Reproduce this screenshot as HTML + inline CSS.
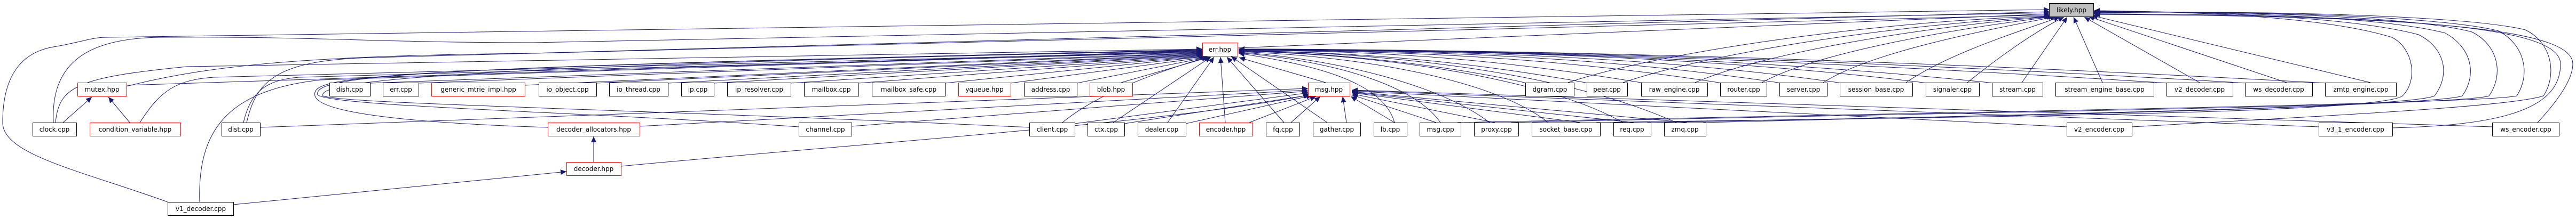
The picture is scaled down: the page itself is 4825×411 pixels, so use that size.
<!DOCTYPE html>
<html><head><meta charset="utf-8"><style>
html,body{margin:0;padding:0;background:#fff;}
svg{display:block;}
text{font-family:"DejaVu Sans","Liberation Sans",sans-serif;font-size:12px;fill:#000;text-anchor:middle;}
.n{fill:#fff;stroke:#000;stroke-width:1;}
.r{fill:#fff;stroke:#ff0000;stroke-width:1;}
.e{fill:none;stroke:#191970;stroke-width:1;marker-end:url(#a);}
.f{fill:none;stroke:#191970;stroke-width:1;}
</style></head><body>
<svg width="4825" height="411" viewBox="0 0 4825 411" xmlns="http://www.w3.org/2000/svg">
<defs><marker id="a" markerUnits="userSpaceOnUse" markerWidth="12" markerHeight="10" refX="11" refY="5" orient="auto"><path d="M0,0 L11,5 L0,10 z" fill="#191970"/></marker></defs>
<g>
<!-- long edges to likely.hpp -->
<path class="e" d="M314,379 C150,320 5,290 5,230 C5,120 60,95 100,88 C150,80 170,70 200,70 L3839,18"/>
<path class="e" d="M100,230 C95,120 160,72 300,70 C600,68 700,80 1000,80 L3839,24"/>
<path class="e" d="M2319,90 L3839,26"/>
<path class="e" d="M462,230 C480,150 520,112 700,108 L3839,22"/>
<path class="e" d="M237,162 C400,120 600,104 1000,100 L3839,28"/>
<!-- edges to err.hpp -->
<path class="e" d="M104,230 C110,160 150,145 350,125 L2252,92"/>
<path class="e" d="M237,160 L2252,95"/>
<path class="e" d="M262,230 C300,170 330,150 400,145 L2252,97"/>
<path class="e" d="M456,230 C470,170 500,150 560,145 L2252,98"/>
<path class="e" d="M374,379 C370,250 420,170 600,150 L2252,96"/>
<path class="e" d="M1026,239 C800,232 600,215 590,180 C580,140 700,130 2252,93"/>
<path class="e" d="M1496,238 C1100,210 620,200 595,178 C585,140 800,125 2252,94"/>
<path class="e" d="M1928,239 C1200,205 640,195 605,180 C590,150 900,122 2252,95"/>
<path class="e" d="M693,156 L2252,99"/>
<path class="e" d="M784,156 L2252,100"/>
<path class="e" d="M983,160 L2252,101"/>
<path class="e" d="M1117,156 L2254,102"/>
<path class="e" d="M1251,156 L2255,103"/>
<path class="e" d="M1337,156 L2256,104"/>
<path class="e" d="M1481,156 L2257,105"/>
<path class="e" d="M1608,156 L2258,106"/>
<path class="e" d="M1770,156 L2260,106"/>
<path class="e" d="M1893,156 L2262,107"/>
<path class="e" d="M2017,156 L2264,107"/>
<path class="e" d="M2100,155 L2266,107"/>
<path class="e" d="M1990,230 C2050,180 2150,140 2262,107"/>
<path class="e" d="M2085,230 L2268,107"/>
<path class="e" d="M2187,230 L2274,107"/>
<path class="e" d="M2295,230 L2286,107"/>
<path class="e" d="M2405,230 L2298,107"/>
<path class="e" d="M2486,230 L2306,106"/>
<path class="e" d="M2483,155 L2321,108"/>
<path class="e" d="M2612,230 C2590,150 2450,120 2320,100"/>
<path class="e" d="M2698,230 C2650,160 2500,115 2320,99"/>
<path class="e" d="M2790,230 C2700,160 2500,110 2320,98"/>
<path class="e" d="M2900,230 C2800,150 2550,105 2320,97"/>
<path class="e" d="M3040,230 C2900,150 2600,102 2320,96"/>
<path class="e" d="M3140,230 C2950,145 2650,100 2320,95"/>
<path class="e" d="M2860,156 C2700,120 2500,100 2320,95"/>
<path class="e" d="M2975,156 C2750,115 2550,98 2320,95"/>
<path class="e" d="M3080,156 C2800,110 2600,96 2320,94"/>
<path class="e" d="M3226,156 C2900,105 2600,95 2320,94"/>
<path class="e" d="M3337,156 C3000,105 2650,94 2320,94"/>
<path class="e" d="M3450,156 C3100,105 2700,94 2320,93"/>
<path class="e" d="M3611,156 C3200,105 2750,94 2320,93"/>
<path class="e" d="M3735,156 C3300,110 2800,93 2320,93"/>
<path class="e" d="M4062,156 C3500,120 2900,93 2320,92"/>
<path class="e" d="M4209,156 C3600,120 2950,93 2320,92"/>
<path class="e" d="M4359,156 C3700,120 3000,93 2320,92"/>
<!-- edges to msg.hpp -->
<path class="e" d="M487,239 L2450,166"/>
<path class="e" d="M1198,237 L2450,169"/>
<path class="e" d="M1595,237 L2450,171"/>
<path class="e" d="M1163,312 C1600,270 2200,230 2452,178"/>
<path class="e" d="M2013,232 L2452,174"/>
<path class="e" d="M2106,232 L2455,178"/>
<path class="e" d="M2221,232 L2458,179"/>
<path class="e" d="M2340,230 L2465,181"/>
<path class="e" d="M2418,230 L2473,181"/>
<path class="e" d="M2522,230 L2515,181"/>
<path class="e" d="M2612,230 L2530,181"/>
<path class="e" d="M2690,230 L2532,178"/>
<path class="e" d="M2800,230 L2532,176"/>
<path class="e" d="M2960,230 L2532,174"/>
<path class="e" d="M3060,230 L2532,173"/>
<path class="e" d="M3160,230 L2532,172"/>
<path class="e" d="M3871,238 L2532,171"/>
<path class="e" d="M4343,238 L2532,170"/>
<path class="e" d="M4668,238 L2532,169"/>
<!-- local arrows -->
<path class="e" d="M118,230 L172,182"/>
<path class="e" d="M243,230 L203,182"/>
<path class="e" d="M1112,304 L1112,256"/>
<path class="e" d="M437,384 L1061,322"/>
<!-- row2 right to likely -->
<path class="e" d="M2937,155 C3100,100 3500,40 3840,30"/>
<path class="e" d="M3040,155 C3200,100 3550,45 3842,31"/>
<path class="e" d="M3175,155 C3300,100 3600,50 3845,31"/>
<path class="e" d="M3300,155 C3400,100 3650,55 3848,31"/>
<path class="e" d="M3415,155 C3500,100 3700,60 3852,31"/>
<path class="e" d="M3570,155 C3650,100 3780,60 3858,32"/>
<path class="e" d="M3685,155 C3740,110 3810,60 3866,32"/>
<path class="e" d="M3787,155 L3872,32"/>
<path class="e" d="M3938,155 L3884,32"/>
<path class="e" d="M4120,155 L3904,32"/>
<path class="e" d="M4283,155 L3912,31"/>
<path class="e" d="M4440,155 L3918,29"/>
<!-- right loops to likely -->
<path class="e" d="M2990,230 C3600,220 4450,215 4500,180 C4530,150 4520,90 4480,70 C4350,30 4100,22 3922,20"/>
<path class="e" d="M3085,230 C3700,218 4500,205 4560,180 C4590,140 4580,90 4530,65 C4400,30 4100,21 3922,21"/>
<path class="e" d="M3190,230 C3800,215 4550,200 4612,180 C4640,140 4630,90 4580,62 C4450,28 4100,21 3922,22"/>
<path class="e" d="M2830,230 C3600,212 4600,200 4662,180 C4690,140 4680,85 4630,60 C4500,26 4100,20 3922,23"/>
<path class="e" d="M2730,230 C3600,212 4650,195 4714,180 C4740,140 4730,85 4680,58 C4550,25 4100,20 3922,24"/>
<path class="e" d="M3993,238 C4400,215 4700,200 4764,180 C4790,140 4780,80 4730,56 C4600,24 4100,19 3922,25"/>
<path class="e" d="M4481,240 C4700,235 4796,200 4796,120 C4796,60 4600,28 3922,26"/>
<path class="e" d="M4753,230 C4790,190 4819,150 4819,120 C4819,60 4600,30 3922,27"/>
</g>
<g>
<rect class="n" x="3838.5" y="6.5" width="83" height="25" style="fill:#bfbfbf"/><text x="3880" y="23">likely.hpp</text>
<rect class="r" x="2252.5" y="80.5" width="66" height="25"/><text x="2285" y="97">err.hpp</text>

<rect class="r" x="145.5" y="155.5" width="92" height="25"/><text x="191" y="172">mutex.hpp</text>
<rect class="n" x="617.5" y="155.5" width="76" height="25"/><text x="655" y="172">dish.cpp</text>
<rect class="n" x="717.5" y="155.5" width="67" height="25"/><text x="751" y="172">err.cpp</text>
<rect class="r" x="808.5" y="155.5" width="175" height="25"/><text x="896" y="172">generic_mtrie_impl.hpp</text>
<rect class="n" x="1009.5" y="155.5" width="108" height="25"/><text x="1063" y="172">io_object.cpp</text>
<rect class="n" x="1141.5" y="155.5" width="110" height="25"/><text x="1196" y="172">io_thread.cpp</text>
<rect class="n" x="1276.5" y="155.5" width="61" height="25"/><text x="1307" y="172">ip.cpp</text>
<rect class="n" x="1362.5" y="155.5" width="119" height="25"/><text x="1422" y="172">ip_resolver.cpp</text>
<rect class="n" x="1506.5" y="155.5" width="102" height="25"/><text x="1557" y="172">mailbox.cpp</text>
<rect class="n" x="1633.5" y="155.5" width="137" height="25"/><text x="1702" y="172">mailbox_safe.cpp</text>
<rect class="r" x="1795.5" y="155.5" width="98" height="25"/><text x="1844" y="172">yqueue.hpp</text>
<rect class="n" x="1918.5" y="155.5" width="99" height="25"/><text x="1968" y="172">address.cpp</text>
<rect class="r" x="2041.5" y="155.5" width="80" height="25"/><text x="2081" y="172">blob.hpp</text>
<rect class="r" x="2450.5" y="155.5" width="78" height="25"/><text x="2489" y="172">msg.hpp</text>
<rect class="n" x="2857.5" y="155.5" width="91" height="25"/><text x="2903" y="172">dgram.cpp</text>
<rect class="n" x="2972.5" y="155.5" width="76" height="25"/><text x="3010" y="172">peer.cpp</text>
<rect class="n" x="3074.5" y="155.5" width="124" height="25"/><text x="3136" y="172">raw_engine.cpp</text>
<rect class="n" x="3222.5" y="155.5" width="87" height="25"/><text x="3266" y="172">router.cpp</text>
<rect class="n" x="3333.5" y="155.5" width="89" height="25"/><text x="3378" y="172">server.cpp</text>
<rect class="n" x="3446.5" y="155.5" width="136" height="25"/><text x="3514" y="172">session_base.cpp</text>
<rect class="n" x="3607.5" y="155.5" width="100" height="25"/><text x="3657" y="172">signaler.cpp</text>
<rect class="n" x="3731.5" y="155.5" width="95" height="25"/><text x="3779" y="172">stream.cpp</text>
<rect class="n" x="3850.5" y="155.5" width="184" height="25"/><text x="3942" y="172">stream_engine_base.cpp</text>
<rect class="n" x="4058.5" y="155.5" width="124" height="25"/><text x="4120" y="172">v2_decoder.cpp</text>
<rect class="n" x="4205.5" y="155.5" width="126" height="25"/><text x="4268" y="172">ws_decoder.cpp</text>
<rect class="n" x="4355.5" y="155.5" width="133" height="25"/><text x="4422" y="172">zmtp_engine.cpp</text>

<rect class="n" x="61.5" y="230.5" width="82" height="25"/><text x="102" y="247">clock.cpp</text>
<rect class="r" x="168.5" y="230.5" width="170" height="25"/><text x="253" y="247">condition_variable.hpp</text>
<rect class="n" x="415.5" y="230.5" width="72" height="25"/><text x="451" y="247">dist.cpp</text>
<rect class="r" x="1026.5" y="230.5" width="172" height="25"/><text x="1112" y="247">decoder_allocators.hpp</text>
<rect class="n" x="1496.5" y="230.5" width="99" height="25"/><text x="1546" y="247">channel.cpp</text>
<rect class="n" x="1928.5" y="230.5" width="85" height="25"/><text x="1971" y="247">client.cpp</text>
<rect class="n" x="2037.5" y="230.5" width="69" height="25"/><text x="2072" y="247">ctx.cpp</text>
<rect class="n" x="2131.5" y="230.5" width="90" height="25"/><text x="2176" y="247">dealer.cpp</text>
<rect class="r" x="2246.5" y="230.5" width="100" height="25"/><text x="2296" y="247">encoder.hpp</text>
<rect class="n" x="2371.5" y="230.5" width="63" height="25"/><text x="2403" y="247">fq.cpp</text>
<rect class="n" x="2459.5" y="230.5" width="89" height="25"/><text x="2504" y="247">gather.cpp</text>
<rect class="n" x="2573.5" y="230.5" width="62" height="25"/><text x="2604" y="247">lb.cpp</text>
<rect class="n" x="2659.5" y="230.5" width="77" height="25"/><text x="2698" y="247">msg.cpp</text>
<rect class="n" x="2761.5" y="230.5" width="83" height="25"/><text x="2803" y="247">proxy.cpp</text>
<rect class="n" x="2869.5" y="230.5" width="128" height="25"/><text x="2933" y="247">socket_base.cpp</text>
<rect class="n" x="3022.5" y="230.5" width="70" height="25"/><text x="3057" y="247">req.cpp</text>
<rect class="n" x="3117.5" y="230.5" width="78" height="25"/><text x="3156" y="247">zmq.cpp</text>
<rect class="n" x="3871.5" y="230.5" width="122" height="25"/><text x="3932" y="247">v2_encoder.cpp</text>
<rect class="n" x="4343.5" y="230.5" width="138" height="25"/><text x="4412" y="247">v3_1_encoder.cpp</text>
<rect class="n" x="4668.5" y="230.5" width="125" height="25"/><text x="4731" y="247">ws_encoder.cpp</text>

<rect class="r" x="1061.5" y="304.5" width="102" height="25"/><text x="1112" y="321">decoder.hpp</text>
<rect class="n" x="314.5" y="379.5" width="123" height="25"/><text x="376" y="396">v1_decoder.cpp</text>
</g>
</svg>
</body></html>
